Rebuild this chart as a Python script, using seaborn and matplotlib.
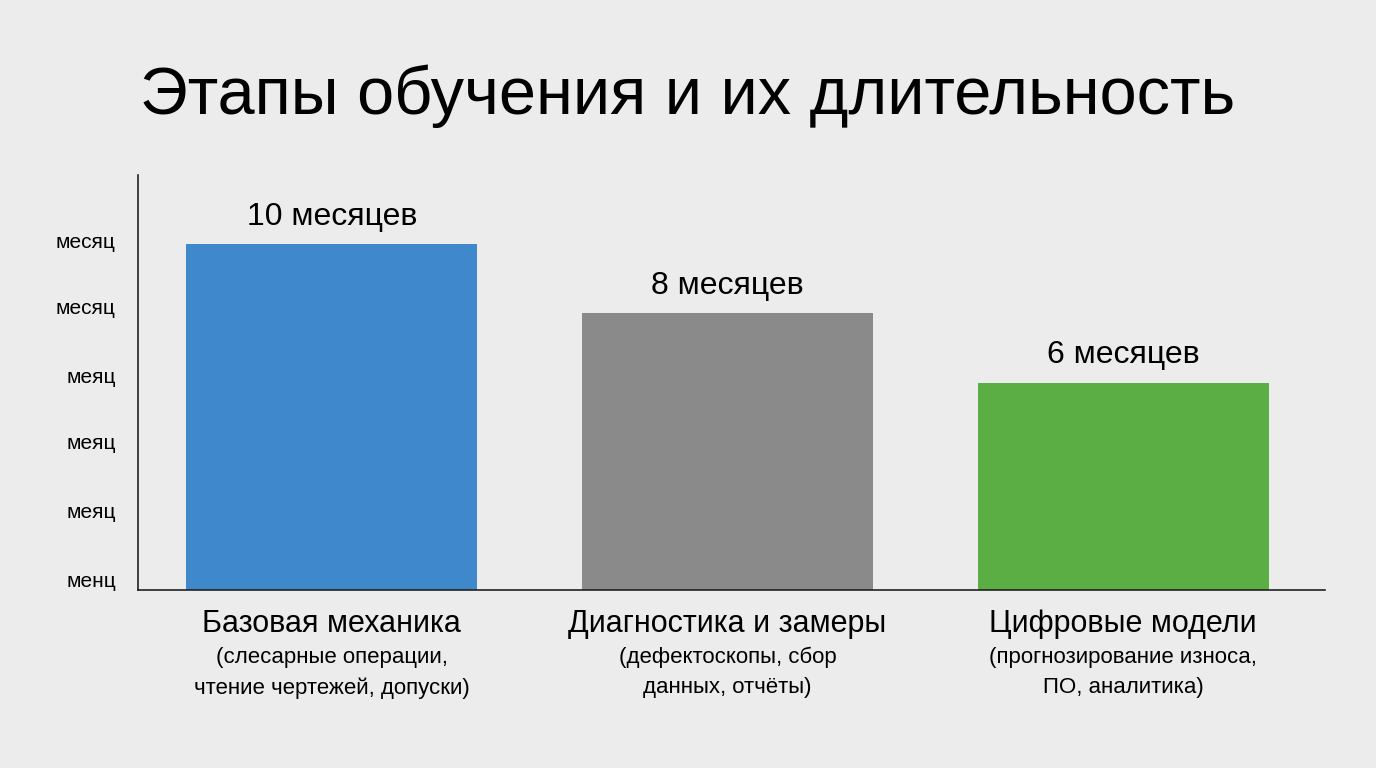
import matplotlib
matplotlib.use("Agg")
import matplotlib.pyplot as plt
import seaborn as sns
import pandas as pd

stages = ["Базовая механика", "Диагностика и замеры", "Цифровые модели"]
details = ["(слесарные операции,\nчтение чертежей, допуски)",
           "(дефектоскопы, сбор\nданных, отчёты)",
           "(прогнозирование износа,\nПО, аналитика)"]
months = [10, 8, 6]
value_labels = ["10 месяцев", "8 месяцев", "6 месяцев"]
colors = ["#3f88cc", "#8a8a8a", "#5aae44"]
ytick_pos = [0.3, 2.3, 4.3, 6.2, 8.2, 10.1]
ytick_labels = ["менц", "меяц", "меяц", "меяц", "месяц", "месяц"]

sns.set_style("white")
plt.rcParams["font.family"] = ["Liberation Sans", "DejaVu Sans"]
plt.rcParams["text.color"] = "black"
plt.rcParams["ytick.color"] = "black"
bg = "#ececec"

fig = plt.figure(figsize=(13.76, 7.68), dpi=100, facecolor=bg)
ax = fig.add_axes([0.1003, 0.2318, 0.8627, 0.5402], facecolor=bg)

df = pd.DataFrame({"stage": stages, "months": months})
sns.barplot(data=df, x="stage", y="months", hue="stage", palette=colors,
            width=0.735, saturation=1, edgecolor="none", linewidth=0,
            legend=False, ax=ax)

for i, (v, lab) in enumerate(zip(months, value_labels)):
    ax.text(i, v + 0.35, lab, ha="center", va="bottom", fontsize=23)

ax.set_xlim(-0.49, 2.51)
ax.set_ylim(0, 12)
ax.set_yticks(ytick_pos)
ax.set_yticklabels(ytick_labels, fontsize=15)
ax.set_xticks(range(3))
ax.set_xticklabels([])
for i, (s, d) in enumerate(zip(stages, details)):
    ax.text(i, -0.55, s, ha="center", va="top", fontsize=22)
    ax.text(i, -1.65, d, ha="center", va="top", fontsize=16,
            linespacing=1.55)
ax.set_xlabel("")
ax.set_ylabel("")
ax.tick_params(axis="both", length=0, pad=16)
for side in ["top", "right"]:
    ax.spines[side].set_visible(False)
for side in ["left", "bottom"]:
    ax.spines[side].set_color("#222222")
    ax.spines[side].set_linewidth(1.2)

fig.text(0.5, 0.875, "Этапы обучения и их длительность", ha="center",
         va="center", fontsize=48)

fig.savefig("out.png", dpi=100, facecolor=bg)
